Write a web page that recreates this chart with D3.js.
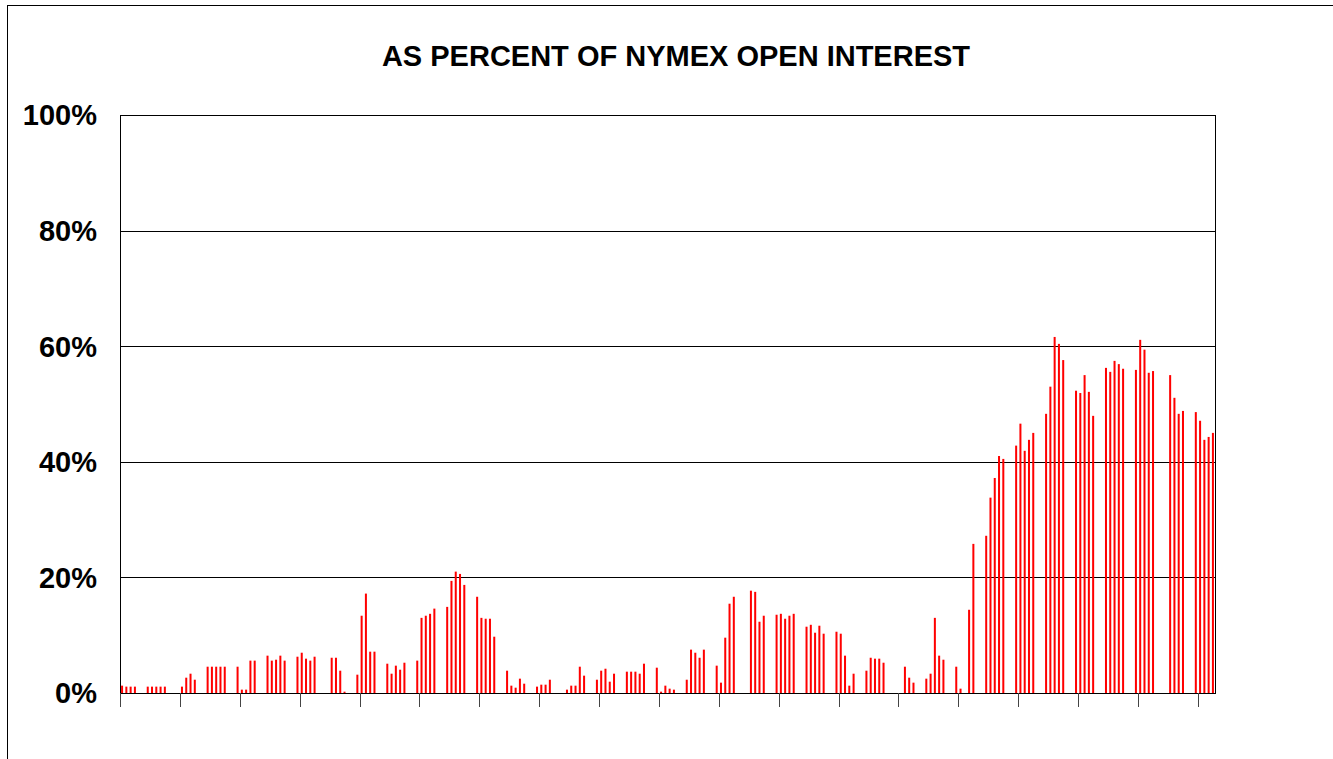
<!DOCTYPE html>
<html>
<head>
<meta charset="utf-8">
<script src="https://cdn.jsdelivr.net/npm/d3@7"></script>
<style>
  body { margin: 0; background: #fff; }
  svg { display: block; font-family: "Liberation Sans", Arial, sans-serif; }
</style>
</head>
<body>
<script>
const title = "AS PERCENT OF NYMEX OPEN INTEREST";

// one slot per calendar day, null = no bar (weekends / holidays)
const values = [
  1.27, 1.1, 1.1, 1.1, null, null, 1.1, 1.1, 1.1, 1.1, 1.1, null, null, null,
  1.1, 2.65, 3.34, 2.3, null, null, 4.55, 4.55, 4.55, 4.55, 4.55, null, null, 4.55,
  0.58, 0.58, 5.6, 5.6, null, null, 6.46, 5.6, 5.76, 6.46, 5.6, null, null, 6.28,
  6.97, 5.94, 5.6, 6.28, null, null, null, 6.1, 6.1, 3.86, 0.23, null, null, 3.17,
  13.37, 17.2, 7.15, 7.15, null, null, 5.07, 3.34, 4.73, 4.03, 5.24, null, null, 5.6,
  13.0, 13.37, 13.7, 14.6, null, null, 14.9, 19.4, 21.0, 20.6, 18.7, null, null, 16.65,
  13.0, 12.85, 12.85, 9.74, null, null, 3.86, 1.27, 0.92, 2.48, 1.61, null, null, 1.1,
  1.44, 1.44, 2.3, null, null, null, 0.58, 1.27, 1.27, 4.55, 3.0, null, null, 2.3,
  3.86, 4.2, 1.96, 3.34, null, null, 3.69, 3.69, 3.69, 3.34, 5.07, null, null, 4.38,
  0.23, 1.27, 0.75, 0.58, null, null, 2.3, 7.5, 6.97, 6.1, 7.5, null, null, 4.73,
  1.79, 9.57, 15.45, 16.65, null, null, null, 17.7, 17.5, 12.33, 13.37, null, null, 13.54,
  13.7, 12.85, 13.37, 13.7, null, null, 11.47, 11.8, 10.43, 11.64, 10.26, null, null, 10.6,
  10.26, 6.46, 1.27, 3.34, null, null, 3.86, 6.1, 5.94, 5.94, 5.24, null, null, null,
  null, 4.55, 2.65, 1.79, null, null, 2.48, 3.34, 13.0, 6.46, 5.76, null, null, 4.55,
  0.75, null, 14.4, 25.8, null, null, 27.2, 33.8, 37.2, 41.0, 40.5, null, null, 42.8,
  46.6, 41.9, 43.8, 45.0, null, null, 48.3, 53.0, 61.6, 60.4, 57.6, null, null, 52.3,
  51.9, 55.0, 52.1, 47.95, null, null, 56.25, 55.56, 57.46, 56.9, 56.1, null, null, 55.9,
  61.1, 59.4, 55.4, 55.7, null, null, null, 55.0, 51.07, 48.3, 48.8, null, null, 48.6,
  47.1, 43.8, 44.3, 45.0
];

const yTicks = [0, 20, 40, 60, 80, 100];
const tickEvery = 14; // x tick mark every two weeks

const width = 1333;
const height = 759;
const marginTop = 115;
const marginRight = 118;
const marginBottom = 66;
const marginLeft = 120;

const days = d3.range(values.length);

const x = d3.scaleBand()
    .domain(days)
    .range([marginLeft, width - marginRight])
    .paddingInner(0.53)
    .paddingOuter(0.25);

const y = d3.scaleLinear()
    .domain([0, 100])
    .range([height - marginBottom, marginTop]);

const svg = d3.select("body")
  .append("svg")
    .attr("width", width)
    .attr("height", height)
    .attr("viewBox", [0, 0, width, height]);

// outer chart frame
svg.append("rect")
    .attr("x", 7.5)
    .attr("y", 5.5)
    .attr("width", width + 20)
    .attr("height", height + 20)
    .attr("fill", "none")
    .attr("stroke", "#000");

svg.append("text")
    .attr("x", 676)
    .attr("y", 66)
    .attr("text-anchor", "middle")
    .attr("font-size", 29)
    .attr("font-weight", "bold")
    .text(title);

// gridlines
svg.append("g")
    .attr("stroke", "#000")
  .selectAll("line")
  .data(yTicks.filter(d => d > 0 && d < 100))
  .join("line")
    .attr("x1", marginLeft)
    .attr("x2", width - marginRight)
    .attr("y1", d => Math.round(y(d)) + 0.5)
    .attr("y2", d => Math.round(y(d)) + 0.5);

// bars
svg.append("g")
    .attr("fill", "#ff0000")
  .selectAll("rect")
  .data(days.filter(i => values[i] != null))
  .join("rect")
    .attr("x", i => x(i))
    .attr("y", i => y(values[i]))
    .attr("width", x.bandwidth())
    .attr("height", i => y(0) - y(values[i]));

// plot frame
svg.append("rect")
    .attr("x", marginLeft + 0.5)
    .attr("y", Math.round(y(100)) + 0.5)
    .attr("width", width - marginRight - marginLeft)
    .attr("height", Math.round(y(0)) - Math.round(y(100)))
    .attr("fill", "none")
    .attr("stroke", "#000");

// x tick marks (no labels), on day boundaries
const dayWidth = (width - marginRight - marginLeft) / values.length;
svg.append("g")
    .attr("stroke", "#444")
  .selectAll("line")
  .data(days.filter(i => i % tickEvery === 0))
  .join("line")
    .attr("x1", i => Math.round(marginLeft + i * dayWidth) + 0.5)
    .attr("x2", i => Math.round(marginLeft + i * dayWidth) + 0.5)
    .attr("y1", Math.round(y(0)))
    .attr("y2", Math.round(y(0)) + 14);

// y labels
svg.append("g")
    .attr("font-size", 29)
    .attr("font-weight", "bold")
    .attr("text-anchor", "end")
  .selectAll("text")
  .data(yTicks)
  .join("text")
    .attr("x", 97)
    .attr("y", d => y(d))
    .attr("dy", "0.36em")
    .text(d => d + "%");
</script>
</body>
</html>
